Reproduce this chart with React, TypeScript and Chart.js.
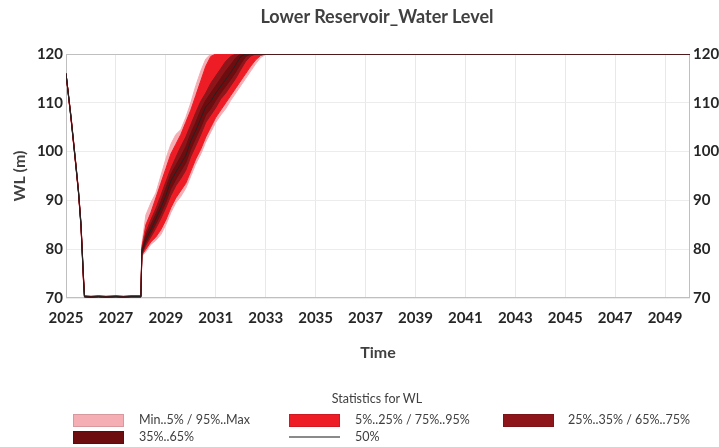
import React, { useEffect, useRef } from "react";
import { Chart, registerables } from "chart.js";
Chart.register(...registerables);

const YEARS = [2025.0, 2025.1, 2025.2, 2025.3, 2025.4, 2025.5, 2025.6, 2025.7, 2025.74, 2026.0, 2026.3, 2026.6, 2027.0, 2027.3, 2027.6, 2028.0, 2028.04, 2028.2, 2028.4, 2028.6, 2028.8, 2029.0, 2029.2, 2029.4, 2029.6, 2029.8, 2030.0, 2030.2, 2030.4, 2030.6, 2030.8, 2031.0, 2031.2, 2031.4, 2031.6, 2031.8, 2032.0, 2032.2, 2032.4, 2032.6, 2032.8, 2033.0, 2033.2, 2050.0];

const P50 = [116.0, 111.5, 107.0, 102.0, 97.0, 91.8, 85.0, 74.0, 70.3, 70.2, 70.3, 70.2, 70.3, 70.2, 70.3, 70.3, 79.5, 82.0, 84.0, 86.2, 88.5, 91.0, 94.0, 95.8, 97.5, 99.2, 102.2, 104.3, 106.8, 109.2, 110.3, 112.0, 113.4, 114.8, 116.2, 117.8, 119.5, 120, 120, 120, 120, 120, 120, 120];
const P35 = [116.0, 111.4, 106.9, 101.9, 96.9, 91.7, 84.8, 73.8, 70.25, 70.15, 70.25, 70.15, 70.25, 70.15, 70.25, 70.25, 79.2, 81.3, 83.2, 85.2, 87.3, 89.6, 92.4, 94.3, 96.0, 97.7, 100.5, 102.8, 105.0, 107.5, 108.8, 110.5, 112.0, 113.4, 114.8, 116.3, 118.0, 119.5, 120, 120, 120, 120, 120, 120];
const P65 = [116.0, 111.6, 107.1, 102.1, 97.1, 91.9, 85.2, 74.2, 70.35, 70.25, 70.35, 70.25, 70.35, 70.25, 70.35, 70.35, 79.8, 82.8, 85.0, 87.2, 89.7, 92.5, 95.3, 97.2, 99.0, 101.0, 103.7, 106.0, 108.5, 110.5, 112.0, 113.5, 115.0, 116.5, 117.8, 119.2, 120, 120, 120, 120, 120, 120, 120, 120];
const P25 = [116.0, 111.35, 106.8, 101.8, 96.8, 91.6, 84.7, 73.6, 70.2, 70.1, 70.2, 70.1, 70.2, 70.1, 70.2, 70.2, 79.0, 80.8, 82.5, 84.3, 86.3, 88.5, 91.0, 93.0, 94.5, 96.2, 99.0, 101.2, 103.5, 106.0, 107.5, 109.0, 110.8, 112.0, 113.5, 115.0, 116.8, 118.5, 119.6, 120, 120, 120, 120, 120];
const P75 = [116.0, 111.65, 107.2, 102.2, 97.2, 92.0, 85.3, 74.4, 70.4, 70.3, 70.4, 70.3, 70.4, 70.3, 70.4, 70.4, 80.0, 83.5, 86.0, 88.3, 91.0, 93.8, 96.5, 98.8, 101.0, 103.0, 105.5, 108.0, 110.3, 112.0, 114.0, 115.5, 117.0, 118.5, 119.5, 120, 120, 120, 120, 120, 120, 120, 120, 120];
const P5 = [116.0, 111.3, 106.7, 101.7, 96.7, 91.5, 84.6, 73.5, 70.15, 70.05, 70.15, 70.05, 70.15, 70.05, 70.15, 70.15, 78.8, 80.0, 81.5, 82.5, 84.0, 86.0, 88.5, 90.5, 92.0, 93.5, 96.0, 98.5, 100.5, 103.0, 105.0, 107.0, 108.5, 110.0, 111.5, 113.0, 114.5, 116.0, 117.5, 118.8, 119.7, 120, 120, 120];
const P95 = [116.0, 111.7, 107.3, 102.3, 97.3, 92.1, 85.4, 74.5, 70.45, 70.35, 70.45, 70.35, 70.45, 70.35, 70.45, 70.45, 80.5, 85.0, 87.5, 90.5, 93.5, 96.5, 99.5, 101.5, 103.5, 106.0, 108.5, 111.5, 114.5, 117.5, 119.5, 120, 120, 120, 120, 120, 120, 120, 120, 120, 120, 120, 120, 120];
const PMIN = [116.0, 111.25, 106.6, 101.6, 96.6, 91.4, 84.5, 73.4, 70.1, 70.0, 70.1, 70.0, 70.1, 70.0, 70.1, 70.1, 78.5, 79.5, 81.0, 81.8, 83.0, 85.0, 87.5, 89.5, 90.8, 92.5, 95.0, 97.5, 99.5, 102.0, 104.0, 106.0, 107.5, 108.8, 110.5, 112.0, 113.5, 115.0, 116.5, 118.0, 119.3, 119.9, 120, 120];
const PMAX = [116.0, 111.75, 107.4, 102.4, 97.4, 92.2, 85.5, 74.6, 70.5, 70.4, 70.5, 70.4, 70.5, 70.4, 70.5, 70.5, 81.0, 87.0, 89.5, 91.5, 95.0, 98.5, 101.5, 103.5, 104.5, 107.0, 110.0, 113.5, 116.5, 119.0, 120, 120, 120, 120, 120, 120, 120, 120, 120, 120, 120, 120, 120, 120];

const X_TICKS = [2025, 2027, 2029, 2031, 2033, 2035, 2037, 2039, 2041, 2043, 2045, 2047, 2049];
const Y_TICKS = [70, 80, 90, 100, 110, 120];

const TITLE = "Lower Reservoir_Water Level";
const X_TITLE = "Time";
const Y_TITLE = "WL (m)";
const LEGEND_TITLE = "Statistics for WL";

const C_PINK = "#F5AEB4";
const C_RED = "#EE1C25";
const C_DARK = "#8E161B";
const C_DARKEST = "#6D0D10";

const FONT = "Lato, 'Open Sans', sans-serif";

const pts = (arr: number[]) => arr.map((v, i) => ({ x: YEARS[i], y: v }));

const band = (arr: number[], color: string, order: number, fill: any) => ({
  data: pts(arr),
  borderColor: color,
  backgroundColor: color,
  borderWidth: 1,
  pointRadius: 0,
  tension: 0,
  fill,
  order,
});

const framePlugin = {
  id: "frame",
  beforeDatasetsDraw(chart: any) {
    const { ctx, chartArea } = chart;
    ctx.save();
    ctx.strokeStyle = "#bfbfbf";
    ctx.lineWidth = 1;
    ctx.strokeRect(
      Math.round(chartArea.left) + 0.5,
      Math.round(chartArea.top) + 0.5,
      Math.round(chartArea.right - chartArea.left) - 1,
      Math.round(chartArea.bottom - chartArea.top) - 1
    );
    ctx.restore();
  },
};

export default function App() {
  const ref = useRef<HTMLCanvasElement | null>(null);
  useEffect(() => {
    document.body.style.margin = "0";
    if (!ref.current) return;
    const tickFont = { family: FONT, size: 15, weight: "bold" as const };
    const chart = new Chart(ref.current, {
      type: "line",
      data: {
        datasets: [
          band(PMAX, C_PINK, 10, false),
          band(PMIN, C_PINK, 9, "-1"),
          band(P95, C_RED, 8, false),
          band(P5, C_RED, 7, "-1"),
          band(P75, C_DARK, 6, false),
          band(P25, C_DARK, 5, "-1"),
          band(P65, C_DARKEST, 4, false),
          band(P35, C_DARKEST, 3, "-1"),
          {
            data: pts(P50),
            borderColor: "#222222",
            borderWidth: 1,
            pointRadius: 0,
            tension: 0,
            fill: false,
            order: 1,
          },
        ] as any,
      },
      options: {
        animation: false,
        responsive: false,
        maintainAspectRatio: false,
        layout: { padding: { top: 54, bottom: 85, left: 0, right: 0 } },
        plugins: { legend: { display: false }, tooltip: { enabled: false }, title: { display: false } },
        scales: {
          x: {
            type: "linear",
            min: 2025,
            max: 2050,
            afterBuildTicks: (s: any) => {
              s.ticks = X_TICKS.map((v) => ({ value: v }));
            },
            afterFit: (s: any) => {
              s.height = 64;
            },
            grid: { color: "#e8e8e8", drawTicks: false },
            border: { display: false },
            ticks: {
              autoSkip: false,
              maxRotation: 0,
              padding: 11,
              color: "#262626",
              font: tickFont,
              callback: (v: any) => String(v),
            },
            title: {
              display: true,
              text: X_TITLE,
              color: "#404040",
              font: { family: FONT, size: 16, weight: "bold" },
              padding: { top: 0, bottom: 0 },
            },
          },
          y: {
            type: "linear",
            position: "left",
            min: 70,
            max: 120,
            afterBuildTicks: (s: any) => {
              s.ticks = Y_TICKS.map((v) => ({ value: v }));
            },
            afterFit: (s: any) => {
              s.width = 66;
            },
            grid: { color: "#ececec", drawTicks: false },
            border: { display: false },
            ticks: { padding: 3, color: "#262626", font: tickFont, callback: (v: any) => String(v) },
            title: {
              display: true,
              text: Y_TITLE,
              color: "#404040",
              font: { family: FONT, size: 16, weight: "bold" },
              padding: { top: 10, bottom: 0 },
            },
          },
          y2: {
            type: "linear",
            position: "right",
            min: 70,
            max: 120,
            afterBuildTicks: (s: any) => {
              s.ticks = Y_TICKS.map((v) => ({ value: v }));
            },
            afterFit: (s: any) => {
              s.width = 29;
            },
            grid: { display: false, drawTicks: false },
            border: { display: false },
            ticks: { padding: 3, color: "#262626", font: tickFont, callback: (v: any) => String(v) },
          },
        },
      } as any,
      plugins: [framePlugin],
    });
    return () => chart.destroy();
  }, []);

  const txt: React.CSSProperties = {
    position: "absolute",
    fontFamily: FONT,
    fontSize: 12.5,
    color: "#404040",
    whiteSpace: "nowrap",
    lineHeight: "14px",
  };
  const box = (left: number, top: number, color: string): React.CSSProperties => ({
    position: "absolute",
    left,
    top,
    width: 51,
    height: 13,
    background: color,
    border: "1px solid rgba(0,0,0,0.12)",
    boxSizing: "border-box",
  });

  return (
    <div style={{ position: "relative", width: 719, height: 447, background: "#fff", overflow: "hidden" }}>
      <canvas ref={ref} width={719} height={447} style={{ position: "absolute", left: 0, top: 0 }} />
      <div
        style={{
          position: "absolute",
          left: 177,
          width: 400,
          top: 5,
          textAlign: "center",
          fontFamily: FONT,
          fontWeight: "bold",
          fontSize: 18,
          color: "#404040",
        }}
      >
        {TITLE}
      </div>
      <div style={{ ...txt, left: 177, width: 400, textAlign: "center", top: 392 }}>{LEGEND_TITLE}</div>
      <div style={box(73, 414, C_PINK)} />
      <div style={{ ...txt, left: 139, top: 413 }}>Min..5% / 95%..Max</div>
      <div style={box(289, 414, C_RED)} />
      <div style={{ ...txt, left: 355, top: 413 }}>5%..25% / 75%..95%</div>
      <div style={box(503, 414, C_DARK)} />
      <div style={{ ...txt, left: 568, top: 413 }}>25%..35% / 65%..75%</div>
      <div style={box(73, 431, C_DARKEST)} />
      <div style={{ ...txt, left: 139, top: 430 }}>35%..65%</div>
      <div style={{ position: "absolute", left: 289, top: 436, width: 51, height: 2, background: "#8a8a8a" }} />
      <div style={{ ...txt, left: 355, top: 430 }}>50%</div>
    </div>
  );
}
